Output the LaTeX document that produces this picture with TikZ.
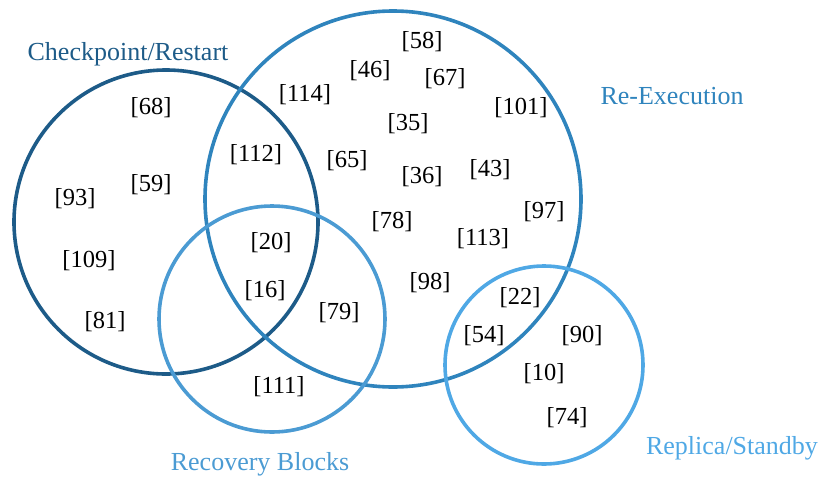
\documentclass[tikz,border=0pt]{standalone}
\usepackage{fontspec}
\setmainfont{Liberation Serif}
\begin{document}
\begin{tikzpicture}[x=1pt,y=-1pt,
  ring/.style={line width=3.6pt},
  num/.style={font=\fontsize{24.5}{26}\selectfont, text=black, inner sep=0pt, yshift=-1.5pt},
  lab/.style={font=\fontsize{26}{28}\selectfont, inner sep=0pt, yshift=-2pt}]
\definecolor{cCR}{HTML}{1D5B88}
\definecolor{cRE}{HTML}{2F84BD}
\definecolor{cRB}{HTML}{4B9BD3}
\definecolor{cRS}{HTML}{4FA8E5}
\useasboundingbox (0,0) rectangle (822,477);
% circles
\draw[ring, cCR] (166,222) circle (152);
\draw[ring, cRE] (393,199) circle (188);
\draw[ring, cRB] (272,319) circle (113);
\draw[ring, cRS] (544,365) circle (99);
% labels
\node[lab, text=cCR] (lCR) at (128,52) {Checkpoint/Restart};
\node[lab, text=cRE] (lRE) at (672,94) {Re-Execution};
\node[lab, text=cRB] (lRB) at (260,462) {Recovery Blocks};
\node[lab, text=cRS] (lRS) at (732,446) {Replica/Standby};
% numbers
\node[num] (n58) at (422,40) {[58]};
\node[num] (n46) at (370,69) {[46]};
\node[num] (n67) at (445,77) {[67]};
\node[num] (n114) at (305,93) {[114]};
\node[num] (n101) at (521,106) {[101]};
\node[num] (n35) at (408,122) {[35]};
\node[num] (n68) at (151,106) {[68]};
\node[num] (n112) at (256,153) {[112]};
\node[num] (n65) at (347,159) {[65]};
\node[num] (n36) at (422,175) {[36]};
\node[num] (n43) at (490,168) {[43]};
\node[num] (n59) at (151,183) {[59]};
\node[num] (n93) at (75,197) {[93]};
\node[num] (n97) at (544,210) {[97]};
\node[num] (n78) at (392,220) {[78]};
\node[num] (n113) at (483,237) {[113]};
\node[num] (n20) at (271,241) {[20]};
\node[num] (n109) at (89,259) {[109]};
\node[num] (n16) at (265,289) {[16]};
\node[num] (n79) at (339,311) {[79]};
\node[num] (n98) at (430,281) {[98]};
\node[num] (n22) at (520,296) {[22]};
\node[num] (n81) at (105,320) {[81]};
\node[num] (n54) at (484,334) {[54]};
\node[num] (n90) at (582,334) {[90]};
\node[num] (n10) at (544,372) {[10]};
\node[num] (n74) at (567,416) {[74]};
\node[num] (n111) at (279,385) {[111]};
\end{tikzpicture}
\end{document}
